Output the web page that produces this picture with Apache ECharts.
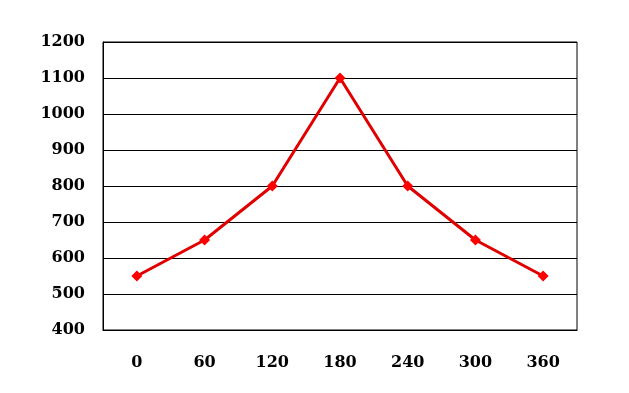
<!DOCTYPE html>
<html><head><meta charset="utf-8">
<script src="https://cdn.jsdelivr.net/npm/echarts@6/dist/echarts.min.js"></script>
<style>html,body{margin:0;padding:0;background:#fff}#c{width:629px;height:393px}</style>
</head><body><div id="c"></div>
<script>
const categories = ['0','60','120','180','240','300','360'];
const values = [550, 650, 800, 1100, 800, 650, 550];
const yMin = 400, yMax = 1200, yStep = 100;

const font = {fontFamily: '"DejaVu Serif","Liberation Serif",serif', fontWeight: 'bold', fontSize: 16, color: '#000'};
const chart = echarts.init(document.getElementById('c'), null, {renderer: 'canvas'});
chart.setOption({
  animation: false,
  grid: {left: 103, right: 52, top: 42, bottom: 63, show: true, borderColor: '#000', borderWidth: 1, containLabel: false},
  xAxis: {
    type: 'category', data: categories, boundaryGap: true,
    axisLine: {lineStyle: {color: '#000', width: 1}},
    axisTick: {inside: true, length: 6, lineStyle: {color: '#000'}},
    axisLabel: Object.assign({margin: 25}, font),
    splitLine: {show: false}
  },
  yAxis: {
    type: 'value', min: yMin, max: yMax, interval: yStep,
    axisLine: {show: true, lineStyle: {color: '#000'}},
    axisTick: {show: false},
    axisLabel: Object.assign({margin: 18, formatter: v => String(v)}, font),
    splitLine: {show: true, lineStyle: {color: '#000', width: 1}}
  },
  series: [{
    type: 'line', data: values,
    symbol: 'diamond', symbolSize: 11,
    lineStyle: {color: '#e00000', width: 3},
    itemStyle: {color: '#ff0000'}
  }]
});
</script></body></html>
